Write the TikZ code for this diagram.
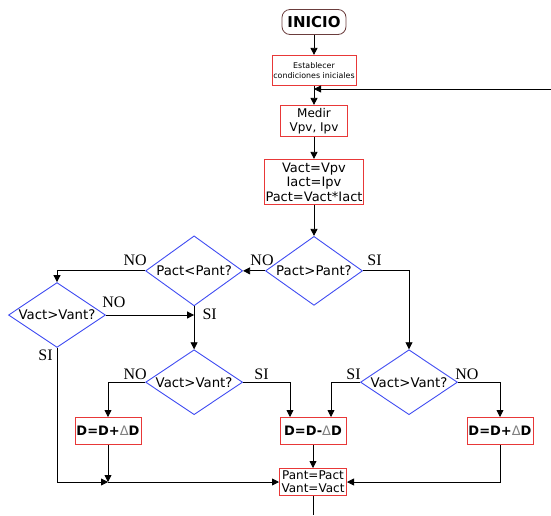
\documentclass[tikz,border=0pt]{standalone}
\usepackage{fontspec}
\setmainfont{Liberation Serif}
\setsansfont{DejaVu Sans}
\usetikzlibrary{arrows.meta, positioning, shapes.geometric}

\definecolor{boxred}{rgb}{0.91,0.22,0.22}
\definecolor{askblue}{rgb}{0.25,0.3,0.95}
\definecolor{startbrown}{rgb}{0.42,0.24,0.24}
\newcommand{\dlt}{{\mdseries\color{black!50}Δ}}

\begin{document}
\begin{tikzpicture}[
        x=1pt, y=-1pt,
        node distance=20pt,
        start/.style={draw=startbrown, line width=0.8pt, rounded corners=8pt, minimum width=64pt, minimum height=25pt, font=\sffamily\bfseries\fontsize{15}{17}\selectfont},
        box/.style={draw=boxred, line width=1pt, align=center, inner sep=1pt, font=\sffamily\fontsize{12}{14}\selectfont},
        dbox/.style={box, minimum width=66pt, minimum height=27pt, font=\sffamily\bfseries\fontsize{13}{15}\selectfont},
        ask/.style={diamond, draw=askblue, line width=0.9pt, aspect=1.4, inner sep=0pt, minimum width=97pt, minimum height=50pt, font=\sffamily\fontsize{13.3}{15}\selectfont},
        lbl/.style={inner sep=2pt, font=\rmfamily\fontsize{16}{16}\selectfont},
        arr/.style={-{Triangle[length=7pt,width=7pt]}, line width=0.8pt}
      ]
      \useasboundingbox (0,0) rectangle (551,515);
      % main column
      \node[start] (inicio) at (314,22) {INICIO};
      \node[box, below=20pt of inicio, minimum width=84pt, minimum height=30pt, font=\sffamily\fontsize{7.9}{10}\selectfont] (estab) {Establecer\\condiciones iniciales};
      \node[box, below=19pt of estab, minimum width=67pt, minimum height=31pt] (medir) {Medir\\Vpv, Ipv};
      \node[box, below=22pt of medir, minimum width=98pt, minimum height=45pt, font=\sffamily\fontsize{13}{14.5}\selectfont] (calc) {Vact=Vpv\\Iact=Ipv\\Pact=Vact*Iact};
      % decisions
      \node[ask, below=31pt of calc, minimum height=69pt] (pgt) {Pact>Pant?};
      \node[ask, left=22pt of pgt, minimum height=70pt] (plt) {Pact<Pant?};
      \node[ask] (vgt1) at (57,315) {Vact>Vant?};
      \node[ask, below=43pt of plt] (vgt2) {Vact>Vant?};
      \node[ask, right=117pt of vgt2] (vgt3) {Vact>Vant?};
      % updates
      \node[dbox] (inc1) at (108,431) {D=D+\dlt D};
      \node[dbox] (dec)  at (313,431) {D=D-\dlt D};
      \node[dbox] (inc2) at (500,431) {D=D+\dlt D};
      \node[box, below=23pt of dec, minimum width=67pt, minimum height=27pt, font=\sffamily\fontsize{12}{13}\selectfont] (upd) {Pant=Pact\\Vant=Vact};
      \coordinate (loopin) at (551,89);
      \coordinate (join) at (inc1.south |- upd.west);
      \coordinate (fin) at (313,515);
      % connectors
      \draw[arr] (inicio) -- (estab);
      \draw[arr] (estab) -- (medir);
      \draw[arr] (loopin) -- (estab.south |- loopin);
      \draw[arr] (medir) -- (calc);
      \draw[arr] (calc) -- (pgt);
      \draw[arr] (pgt.west) -- node[lbl, pos=0, above, xshift=-3pt, yshift=3pt] {NO} (plt.east);
      \draw[arr] (pgt.east) -| node[lbl, pos=0, above right, xshift=2pt, yshift=3pt] {SI} (vgt3.north);
      \draw[arr] (plt.west) -| node[lbl, pos=0, above left, xshift=4pt, yshift=3pt] {NO} (vgt1.north);
      \draw[arr] (plt.south) -- node[lbl, pos=0, below right, xshift=6pt] {SI} (vgt2.north);
      \draw[arr] (vgt1.east) -- node[lbl, pos=0, above right, xshift=-6pt, yshift=5pt] {NO} (plt.south |- vgt1.east);
      \draw[arr] (vgt2.west) -| node[lbl, pos=0, above left, xshift=4pt] {NO} (inc1.north);
      \draw[arr] (vgt2.east) -| node[lbl, pos=0, above right, xshift=9pt] {SI} ([xshift=-23pt]dec.north);
      \draw[arr] (vgt3.west) -| node[lbl, pos=0, above left, xshift=3pt] {SI} ([xshift=18pt]dec.north);
      \draw[arr] (vgt3.east) -| node[lbl, pos=0, above right, xshift=-5pt] {NO} (inc2.north);
      \draw[arr] (dec) -- (upd);
      \draw[arr] (vgt1.south) |- node[lbl, pos=0, below left, xshift=-2pt] {SI} (join);
      \draw[arr] (join) -- (upd.west);
      \draw[arr] (inc1) -- (join);
      \draw[arr] (inc2.south) |- (upd.east);
      \draw (upd) -- (fin);
    \end{tikzpicture}
\end{document}
